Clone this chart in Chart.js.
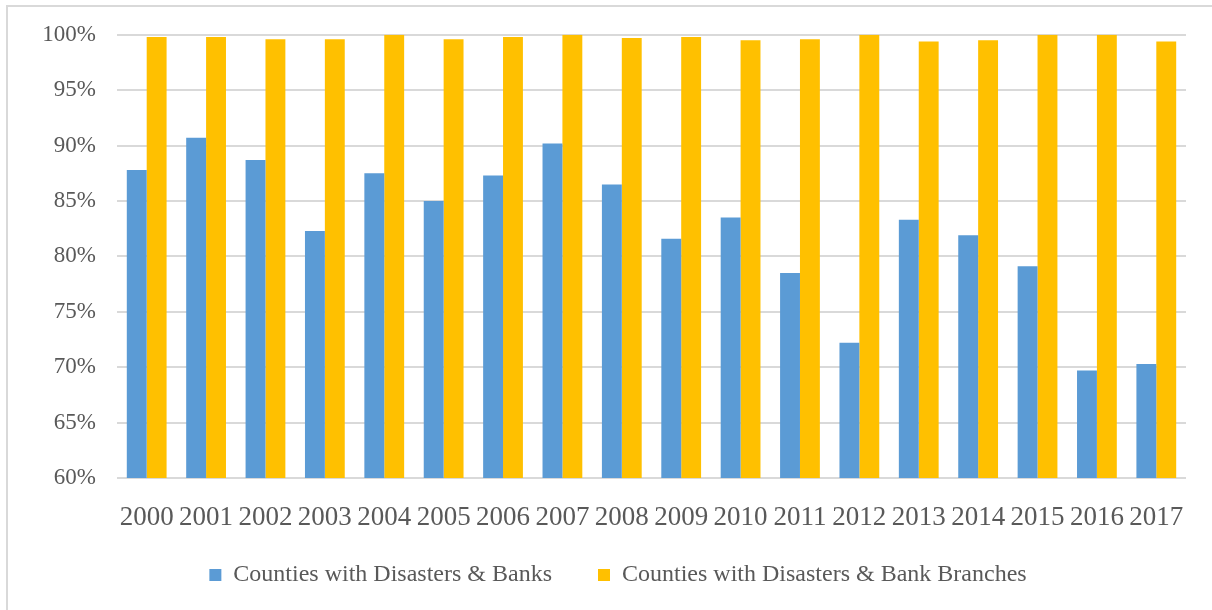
<!DOCTYPE html>
<html>
<head>
<meta charset="utf-8">
<script src="https://cdn.jsdelivr.net/npm/chart.js@4/dist/chart.umd.min.js"></script>
<style>
  body { margin: 0; background: #fff; }
  #wrap { position: relative; width: 1212px; height: 610px; overflow: hidden; }
  #frame { position: absolute; left: 6px; top: 5px; width: 1230px; height: 640px; border: 2px solid #d9d9d9; box-sizing: border-box; }
  canvas { position: absolute; left: 0; top: 0; }
</style>
</head>
<body>
<div id="wrap">
  <div id="frame"></div>
  <canvas id="chart" width="1212" height="610"></canvas>
</div>
<script>
const years = ["2000","2001","2002","2003","2004","2005","2006","2007","2008","2009",
               "2010","2011","2012","2013","2014","2015","2016","2017"];
const banks = [87.8, 90.7, 88.7, 82.3, 87.5, 85.0, 87.3, 90.2, 86.5, 81.6,
               83.5, 78.5, 72.2, 83.3, 81.9, 79.1, 69.7, 70.3];
const branches = [99.8, 99.8, 99.6, 99.6, 100, 99.6, 99.8, 100, 99.7, 99.8,
                  99.5, 99.6, 100, 99.4, 99.5, 100, 100, 99.4];
const yTicks = [60, 65, 70, 75, 80, 85, 90, 95, 100];
const seriesNames = ["Counties with Disasters & Banks", "Counties with Disasters & Bank Branches"];

const fontFamily = "'Liberation Serif', 'Times New Roman', serif";
const textColor = "#595959";

// nudge the legend so it is centred on the whole figure, not just the plot
const legendShift = {
  id: "legendShift",
  afterLayout(chart) {
    if (chart.legend) chart.legend.left += 50;
  }
};

new Chart(document.getElementById("chart"), {
  type: "bar",
  data: {
    labels: years,
    datasets: [
      { label: seriesNames[0], data: banks, backgroundColor: "#5B9BD5" },
      { label: seriesNames[1], data: branches, backgroundColor: "#FFC000" }
    ]
  },
  plugins: [legendShift],
  options: {
    responsive: false,
    animation: false,
    layout: { padding: { top: 25, right: 26, bottom: 13, left: 0 } },
    datasets: { bar: { categoryPercentage: 0.67, barPercentage: 1.0 } },
    plugins: {
      tooltip: { enabled: false },
      legend: {
        position: "bottom",
        labels: {
          font: { family: fontFamily, size: 24 },
          color: textColor,
          boxWidth: 12,
          boxHeight: 12,
          padding: 10,
          // extra spaces after the first item widen the gap between the two entries
          generateLabels: chart => chart.data.datasets.map((ds, i) => ({
            text: i === 0 ? ds.label + "\u00a0\u00a0\u00a0\u00a0\u00a0\u00a0" : ds.label,
            fillStyle: ds.backgroundColor,
            strokeStyle: ds.backgroundColor,
            lineWidth: 0,
            fontColor: textColor,
            datasetIndex: i
          }))
        }
      }
    },
    scales: {
      x: {
        grid: { display: false },
        border: { display: false },
        ticks: { font: { family: fontFamily, size: 27 }, color: textColor, padding: 16, maxRotation: 0 },
        afterFit: scale => { scale.height = 75; }
      },
      y: {
        min: 60,
        max: 100,
        afterBuildTicks: scale => { scale.ticks = yTicks.map(v => ({ value: v })); },
        grid: { color: "#d9d9d9", lineWidth: 2, drawTicks: false },
        border: { display: false },
        ticks: {
          font: { family: fontFamily, size: 23 },
          color: textColor,
          padding: 21,
          callback: v => v + "%"
        },
        afterFit: scale => { scale.width = 117; }
      }
    }
  }
});
</script>
</body>
</html>
